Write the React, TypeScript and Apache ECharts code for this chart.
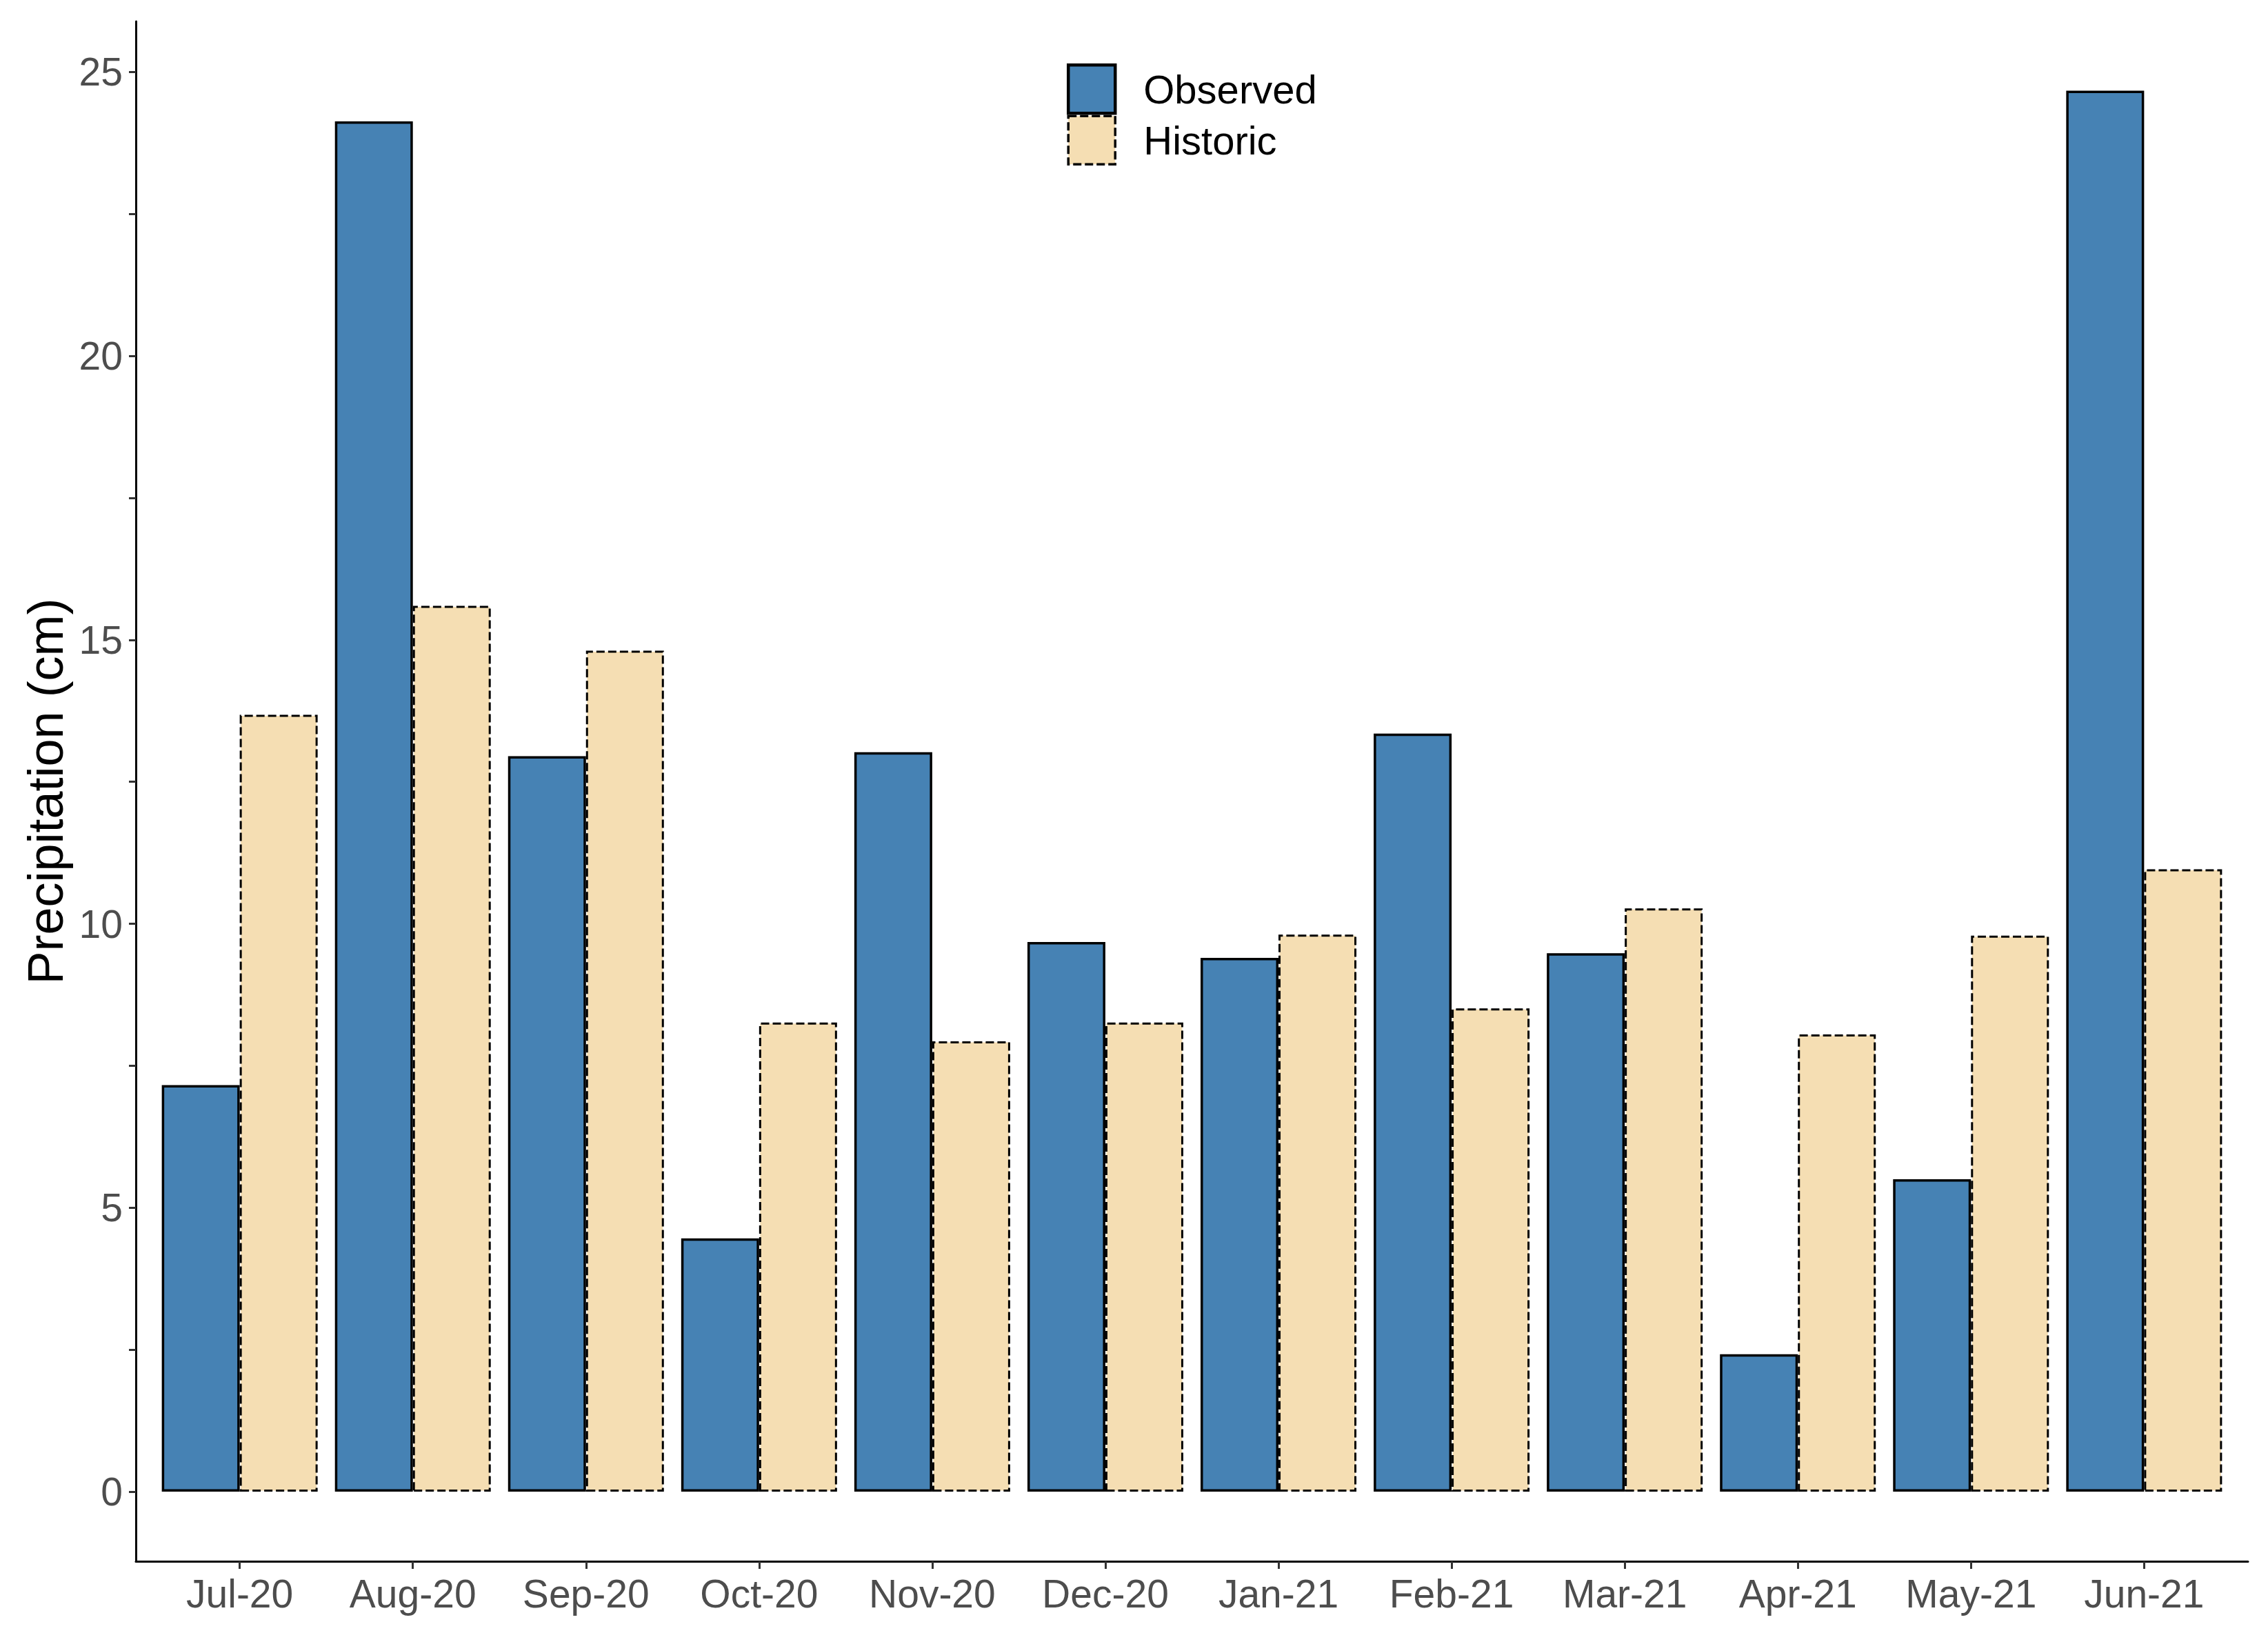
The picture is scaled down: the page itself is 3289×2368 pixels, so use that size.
import React, { useEffect, useRef } from "react";
import * as echarts from "echarts";

const months = ["Jul-20", "Aug-20", "Sep-20", "Oct-20", "Nov-20", "Dec-20", "Jan-21", "Feb-21", "Mar-21", "Apr-21", "May-21", "Jun-21"];
const observed = [7.16, 24.13, 12.95, 4.46, 13.02, 9.68, 9.4, 13.35, 9.48, 2.42, 5.5, 24.67];
const historic = [13.68, 15.6, 14.81, 8.26, 7.93, 8.26, 9.81, 8.51, 10.27, 8.05, 9.79, 10.96];
const yLabelValues = [0, 5, 10, 15, 20, 25];
const yTickValues = [0, 2.5, 5, 7.5, 10, 12.5, 15, 17.5, 20, 22.5, 25];
const xPositions = months.map((_, i) => i + 1);

const FONT = "'Liberation Sans', Arial, sans-serif";

export default function App() {
  const ref = useRef<HTMLDivElement>(null);
  useEffect(() => {
    if (!ref.current) return;
    const chart = echarts.init(ref.current, null, { renderer: "svg" });
    const obsStyle = { color: "#4682B4", borderColor: "#000000", borderWidth: 3.5, borderType: "solid" as const };
    const hisStyle = { color: "#F5DEB3", borderColor: "#000000", borderWidth: 3, borderType: [12, 5] as any };
    chart.setOption({
      animation: false,
      backgroundColor: "#ffffff",
      textStyle: { fontFamily: FONT },
      grid: { left: 197, right: 29, top: 31, bottom: 104, containLabel: false },
      legend: {
        orient: "vertical",
        left: 1547,
        top: 92,
        padding: 0,
        itemGap: 0,
        itemWidth: 68,
        itemHeight: 70,
        selectedMode: false,
        icon: "rect",
        textStyle: { fontSize: 58, color: "#000000", fontFamily: FONT, padding: [0, 0, 0, 36] },
        data: [
          { name: "Observed", itemStyle: { ...obsStyle, borderWidth: 4.5 } },
          { name: "Historic", itemStyle: { ...hisStyle, borderWidth: 3.5 } },
        ],
      },
      xAxis: {
        type: "value",
        min: 0.4,
        max: 12.6,
        splitLine: { show: false },
        axisLine: { show: true, onZero: false, lineStyle: { color: "#000000", width: 3 } },
        axisTick: { show: true, length: 11, lineStyle: { color: "#333333", width: 3 }, customValues: xPositions },
        axisLabel: {
          show: true,
          customValues: xPositions,
          formatter: (v: number) => months[Math.round(v) - 1] ?? "",
          fontSize: 57,
          color: "#4D4D4D",
          fontFamily: FONT,
          margin: 18,
        },
      },
      yAxis: {
        type: "value",
        min: -1.226,
        max: 25.89,
        name: "Precipitation (cm)",
        nameLocation: "middle",
        nameRotate: 90,
        nameGap: 95,
        nameTextStyle: { fontSize: 72, color: "#000000", fontFamily: FONT },
        splitLine: { show: false },
        axisLine: { show: true, onZero: false, lineStyle: { color: "#000000", width: 3 } },
        axisTick: { show: true, length: 10, lineStyle: { color: "#333333", width: 3 }, customValues: yTickValues },
        axisLabel: {
          show: true,
          customValues: yLabelValues,
          fontSize: 57,
          color: "#4D4D4D",
          fontFamily: FONT,
          margin: 19,
        },
      },
      series: [
        {
          name: "Observed",
          type: "bar",
          barWidth: 113,
          barGap: "0%",
          itemStyle: obsStyle,
          data: observed.map((v, i) => [xPositions[i], v]),
        },
        {
          name: "Historic",
          type: "bar",
          barWidth: 113,
          barGap: "0%",
          itemStyle: hisStyle,
          data: historic.map((v, i) => [xPositions[i], v]),
        },
      ],
    });
    return () => chart.dispose();
  }, []);
  return (
    <div
      ref={ref}
      style={{ position: "fixed", left: 0, top: 0, width: "3289px", height: "2368px", background: "#fff" }}
    />
  );
}
